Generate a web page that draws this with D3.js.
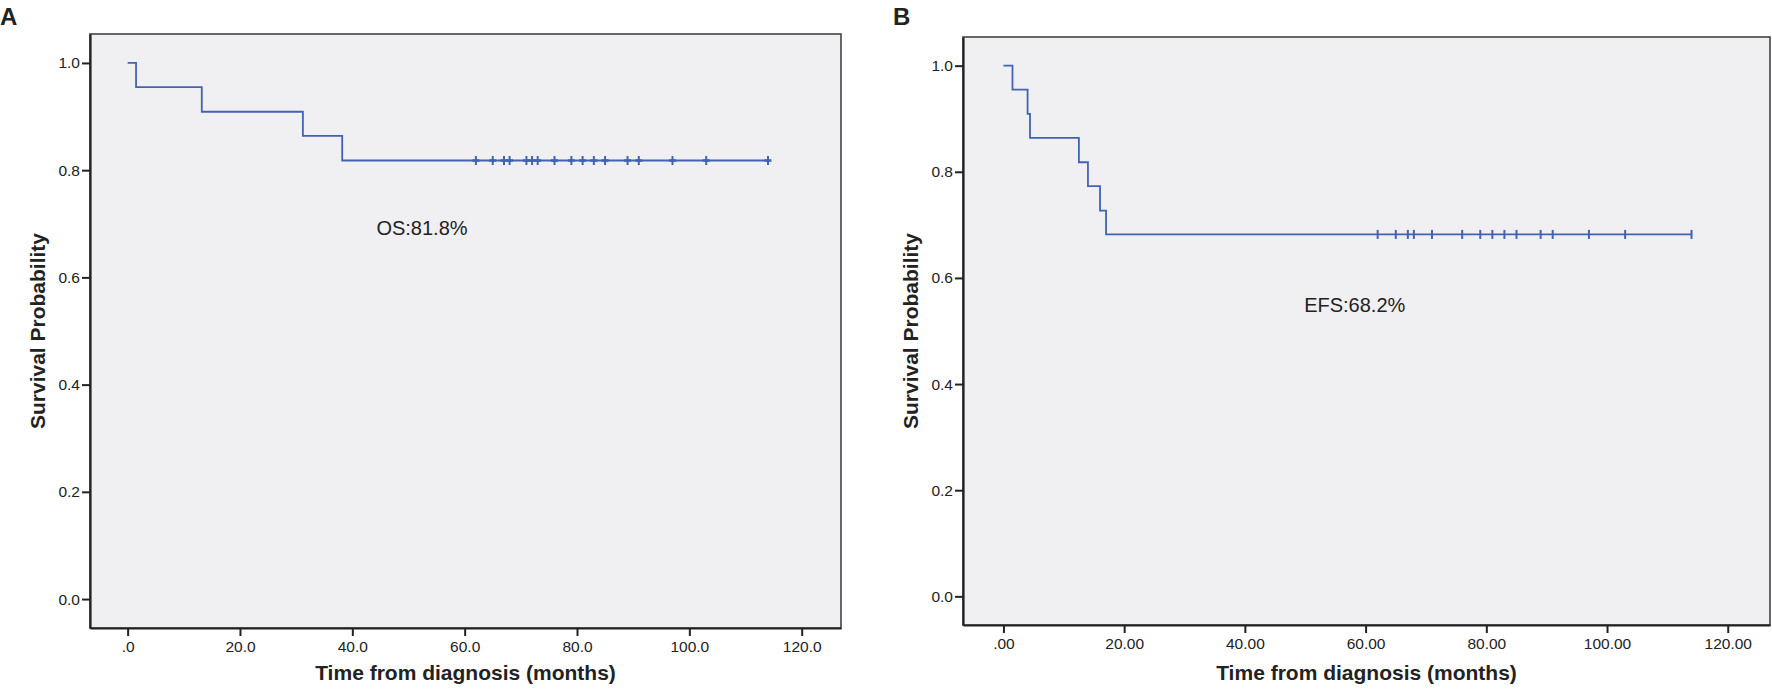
<!DOCTYPE html>
<html>
<head>
<meta charset="utf-8">
<script src="https://cdn.jsdelivr.net/npm/d3@7"></script>
<style>
  body { margin: 0; background: #fff; }
  svg text { font-family: "Liberation Sans", Arial, sans-serif; fill: #222; }
</style>
</head>
<body>
<svg id="chart" width="1772" height="693"></svg>
<script>
// data
var osTimes = [0, 1.5, 13.2, 31.2, 38.2];
var osSurv = [1, 0.955, 0.909, 0.864, 0.818];
var osCensored = [62, 65, 67, 68, 71, 72, 73, 76, 79, 81, 83, 85, 89, 91, 97, 103, 114];
var osEnd = 114;

var efsTimes = [0, 1.5, 4.0, 4.4, 12.5, 14.0, 16.0, 17.0];
var efsSurv = [1, 0.955, 0.909, 0.864, 0.818, 0.773, 0.727, 0.682];
var efsCensored = [62, 65, 67, 68, 71, 76, 79, 81, 83, 85, 89, 91, 97, 103, 114];
var efsEnd = 114;

var yTicks = [0, 0.2, 0.4, 0.6, 0.8, 1.0];
var xTicks = [0, 20, 40, 60, 80, 100, 120];
var osXLabels = [".0", "20.0", "40.0", "60.0", "80.0", "100.0", "120.0"];
var efsXLabels = [".00", "20.00", "40.00", "60.00", "80.00", "100.00", "120.00"];

var svg = d3.select("#chart");
var lineColor = "#4262b5";

function drawPanel(o) {
  var x = d3.scaleLinear().domain([-6.7, 127]).range([o.left, o.right]);
  var y = d3.scaleLinear().domain([-0.054, 1.054]).range([o.bottom, o.top]);
  var g = svg.append("g");

  g.append("rect")
    .attr("x", o.left).attr("y", o.top)
    .attr("width", o.right - o.left).attr("height", o.bottom - o.top)
    .attr("fill", "#f0f0f2").attr("stroke", "#444").attr("stroke-width", 1.6);

  // y axis
  var yAxis = g.append("g").attr("transform", "translate(" + o.left + ",0)")
    .call(d3.axisLeft(y).tickValues(yTicks).tickSize(8).tickSizeOuter(0)
      .tickFormat(d3.format(".1f")));
  // x axis
  var xAxis = g.append("g").attr("transform", "translate(0," + o.bottom + ")")
    .call(d3.axisBottom(x).tickValues(xTicks).tickSize(8).tickSizeOuter(0)
      .tickFormat(function(d, i) { return o.xLabels[i]; }));

  [yAxis, xAxis].forEach(function(a) {
    a.select(".domain").attr("stroke", "#222").attr("stroke-width", 2.2);
    a.selectAll(".tick line").attr("stroke", "#222").attr("stroke-width", 2);
    a.selectAll(".tick text").attr("font-size", 15.5)
      .attr("font-family", "Liberation Sans, Arial, sans-serif").attr("fill", "#222");
  });
  yAxis.selectAll(".tick text").attr("x", -10);
  xAxis.selectAll(".tick text").attr("y", 13);

  // step curve
  var pts = o.times.map(function(t, i) { return [t, o.surv[i]]; });
  pts.push([o.end, o.surv[o.surv.length - 1]]);
  var line = d3.line().x(function(d) { return x(d[0]); }).y(function(d) { return y(d[1]); })
    .curve(d3.curveStepAfter);
  g.append("path").datum(pts)
    .attr("d", line).attr("fill", "none")
    .attr("stroke", lineColor).attr("stroke-width", 1.8);

  // censor marks
  var last = o.surv[o.surv.length - 1];
  var cm = g.selectAll(".cens").data(o.censored).enter().append("g")
    .attr("transform", function(d) { return "translate(" + x(d) + "," + y(last) + ")"; });
  cm.append("line").attr("x1", 0).attr("x2", 0).attr("y1", -4.5).attr("y2", 4.5)
    .attr("stroke", lineColor).attr("stroke-width", 2);
  if (o.plus) {
    cm.append("line").attr("x1", -3.5).attr("x2", 3.5).attr("y1", 0).attr("y2", 0)
      .attr("stroke", lineColor).attr("stroke-width", 2.6);
  }

  // annotation
  g.append("text").attr("x", x(o.note[0])).attr("y", y(o.note[1]))
    .attr("text-anchor", "middle").attr("font-size", 20).text(o.note[2]);

  // axis titles
  g.append("text").attr("x", (o.left + o.right) / 2).attr("y", 680)
    .attr("text-anchor", "middle").attr("font-size", 21).attr("font-weight", "bold")
    .attr("font-family", "Liberation Sans Narrow, Arial Narrow, sans-serif")
    .text("Time from diagnosis (months)");
  g.append("text")
    .attr("transform", "translate(" + (o.left - 53) + "," + ((o.top + o.bottom) / 2) + ") rotate(-90)")
    .attr("text-anchor", "middle").attr("dominant-baseline", "central")
    .attr("font-size", 21).attr("font-weight", "bold")
    .attr("font-family", "Liberation Sans Narrow, Arial Narrow, sans-serif")
    .text("Survival Probability");

  // panel letter
  g.append("text").attr("x", o.letterX).attr("y", 25)
    .attr("font-size", 24).attr("font-weight", "bold").attr("fill", "#000")
    .text(o.letter);
}

drawPanel({
  left: 90, right: 841, top: 34, bottom: 628,
  times: osTimes, surv: osSurv, censored: osCensored, end: osEnd,
  xLabels: osXLabels, plus: true,
  note: [52.4, 0.679, "OS:81.8%"], letter: "A", letterX: 0
});

drawPanel({
  left: 963, right: 1770, top: 37, bottom: 625,
  times: efsTimes, surv: efsSurv, censored: efsCensored, end: efsEnd,
  xLabels: efsXLabels, plus: false,
  note: [58.2, 0.536, "EFS:68.2%"], letter: "B", letterX: 893
});
</script>
</body>
</html>
